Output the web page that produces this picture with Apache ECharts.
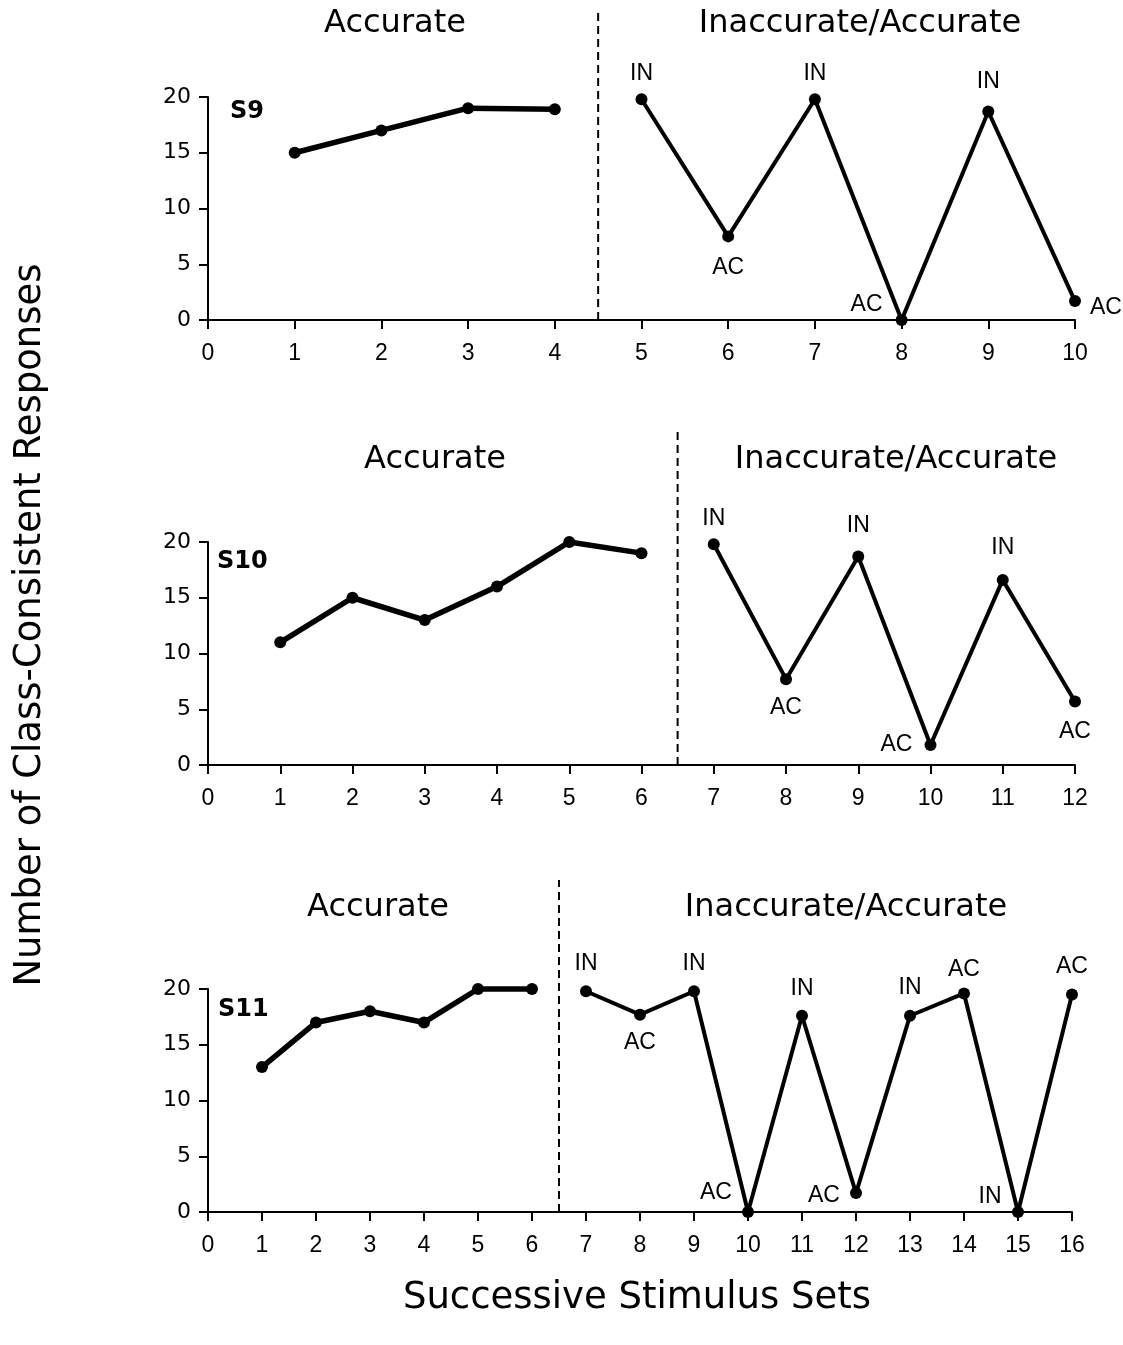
<!DOCTYPE html>
<html><head><meta charset="utf-8">
<script src="https://cdn.jsdelivr.net/npm/echarts@6/dist/echarts.min.js"></script>
<style>html,body{margin:0;padding:0;background:#fff}#c{width:1123px;height:1345px}</style>
</head><body><div id="c"></div>
<script>
// ---- data ----
const subjectNames = ['S9', 'S10', 'S11'];
const phaseNames = ['Accurate', 'Inaccurate/Accurate'];
const yTicks = [0, 5, 10, 15, 20];
const xMaxValues = [10, 12, 16];
const phaseBoundaries = [4.5, 6.5, 6.5];

const s9Accurate = [15, 17, 19, 18.9];
const s9Mixed = [19.8, 7.5, 19.8, 0, 18.7, 1.7];
const s9Tags = ['IN', 'AC', 'IN', 'AC', 'IN', 'AC'];

const s10Accurate = [11, 15, 13, 16, 20, 19];
const s10Mixed = [19.8, 7.7, 18.7, 1.8, 16.6, 5.7];
const s10Tags = ['IN', 'AC', 'IN', 'AC', 'IN', 'AC'];

const s11Accurate = [13, 17, 18, 17, 20, 20];
const s11Mixed = [19.8, 17.7, 19.8, 0, 17.6, 1.7, 17.6, 19.6, 0, 19.5];
const s11Tags = ['IN', 'AC', 'IN', 'AC', 'IN', 'AC', 'IN', 'AC', 'IN', 'AC'];

// ---- layout / style (kept apart from data) ----
const layout = [
  {top: 97, bottom: 1025, right: 48, dashTop: 8, accX: 395, mixX: 860, titleY: 24, subjX: 230, subjY: 112,
   offsets: [[0,-26],[0,31],[0,-26],[-35,-15],[0,-30],[31,7]]},
  {top: 542, bottom: 580, right: 48, dashTop: 432, accX: 435, mixX: 896, titleY: 460, subjX: 217, subjY: 562,
   offsets: [[0,-26],[0,29],[0,-31],[-34,0],[0,-32],[0,30]]},
  {top: 989, bottom: 133, right: 51, dashTop: 880, accX: 378, mixX: 846, titleY: 908, subjX: 218, subjY: 1010,
   offsets: [[0,-28],[0,28],[0,-28],[-32,-19],[0,-27],[-32,3],[0,-28],[0,-24],[-28,-15],[0,-28]]}
];
const LEFT = 208;
const panels = [
  {acc: s9Accurate, mix: s9Mixed, tags: s9Tags},
  {acc: s10Accurate, mix: s10Mixed, tags: s10Tags},
  {acc: s11Accurate, mix: s11Mixed, tags: s11Tags}
];

const grid = [], xAxis = [], yAxis = [], series = [], graphic = [];
panels.forEach((p, i) => {
  const L = layout[i];
  const xMax = xMaxValues[i];
  grid.push({left: LEFT, right: L.right, top: L.top, bottom: L.bottom});
  grid.push({left: LEFT, right: L.right, top: L.dashTop, bottom: L.bottom});
  const gMain = i * 2, gOver = i * 2 + 1;
  xAxis.push({
    type: 'value', gridIndex: gMain, min: 0, max: xMax, interval: 1,
    axisLine: {show: true, onZero: false, lineStyle: {color: '#000', width: 2}},
    axisTick: {show: true, length: 9, lineStyle: {color: '#000', width: 2}},
    axisLabel: {color: '#000', fontSize: 23, fontFamily: 'Liberation Sans', margin: 22, showMinLabel: true, showMaxLabel: true},
    splitLine: {show: false}
  });
  xAxis.push({type: 'value', gridIndex: gOver, min: 0, max: xMax, show: false});
  yAxis.push({
    type: 'value', gridIndex: gMain, min: yTicks[0], max: yTicks[yTicks.length - 1], interval: yTicks[1] - yTicks[0],
    axisLine: {show: true, onZero: false, lineStyle: {color: '#000', width: 2}},
    axisTick: {show: true, length: 9, lineStyle: {color: '#000', width: 2}},
    axisLabel: {color: '#000', fontSize: 22, fontFamily: 'DejaVu Sans', margin: 17, showMinLabel: true, showMaxLabel: true},
    splitLine: {show: false}
  });
  yAxis.push({type: 'value', gridIndex: gOver, min: 0, max: 1, show: false});

  series.push({
    type: 'line', xAxisIndex: gOver, yAxisIndex: gOver,
    data: [[phaseBoundaries[i], 0], [phaseBoundaries[i], 1]],
    symbol: 'none', silent: true, clip: false,
    lineStyle: {color: '#000', width: 2, type: [8, 5]}
  });
  series.push({
    type: 'line', xAxisIndex: gMain, yAxisIndex: gMain,
    data: p.acc.map((v, k) => [k + 1, v]),
    symbol: 'circle', symbolSize: 12, clip: false, z: 4,
    lineStyle: {color: '#000', width: 5.5}, itemStyle: {color: '#000'}
  });
  const start = p.acc.length + 1;
  series.push({
    type: 'line', xAxisIndex: gMain, yAxisIndex: gMain,
    data: p.mix.map((v, k) => ({value: [start + k, v], label: {offset: L.offsets[k]}})),
    symbol: 'circle', symbolSize: 12, clip: false, z: 4,
    lineStyle: {color: '#000', width: 4}, itemStyle: {color: '#000'},
    label: {show: true, position: 'inside', color: '#000', fontSize: 23, fontFamily: 'Liberation Sans',
      formatter: (q) => p.tags[q.dataIndex]}
  });

  graphic.push({type: 'text', x: L.accX, y: L.titleY, style: {text: phaseNames[0], fill: '#000',
    font: '32px "DejaVu Sans"', textAlign: 'center', textVerticalAlign: 'middle'}});
  graphic.push({type: 'text', x: L.mixX, y: L.titleY, style: {text: phaseNames[1], fill: '#000',
    font: '32px "DejaVu Sans"', textAlign: 'center', textVerticalAlign: 'middle'}});
  graphic.push({type: 'text', x: L.subjX, y: L.subjY, style: {text: subjectNames[i], fill: '#000',
    font: 'bold 24px "DejaVu Sans"', textAlign: 'left', textVerticalAlign: 'middle'}});
});

graphic.push({type: 'text', x: 30, y: 625, rotation: Math.PI / 2,
  style: {text: 'Number of Class-Consistent Responses', fill: '#000', font: '37px "DejaVu Sans"',
    textAlign: 'center', textVerticalAlign: 'middle'}});
graphic.push({type: 'text', x: 637, y: 1298,
  style: {text: 'Successive Stimulus Sets', fill: '#000', font: '37px "DejaVu Sans"',
    textAlign: 'center', textVerticalAlign: 'middle'}});

const chart = echarts.init(document.getElementById('c'), null, {renderer: 'canvas'});
chart.setOption({
  animation: false,
  backgroundColor: '#fff',
  grid, xAxis, yAxis, series, graphic
});
</script>
</body></html>
